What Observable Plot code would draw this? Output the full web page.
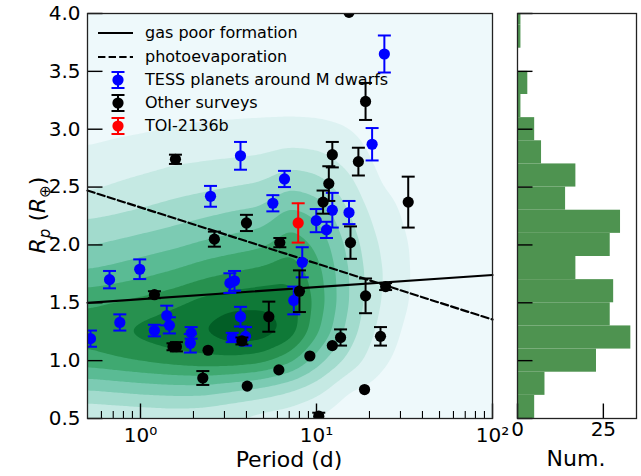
<!DOCTYPE html>
<html>
<head>
<meta charset="utf-8">
<script src="https://cdn.jsdelivr.net/npm/d3@7"></script>
<script src="https://cdn.jsdelivr.net/npm/@observablehq/plot@0.6"></script>
<style>
  html, body { margin: 0; padding: 0; background: #fff; }
  #chart { position: relative; width: 641px; height: 476px; overflow: hidden; font-family: "DejaVu Sans", sans-serif; }
  #chart > svg { position: absolute; top: 0; margin: 0; }
</style>
</head>
<body>
<div id="chart"></div>
<script>
// ---------- data ----------
// TESS planets around M dwarfs
const tessPeriod = [24.3, 20.7, 15.3, 12.3, 11.4, 9.97, 8.3, 7.43, 6.58, 5.65, 3.70, 2.50, 0.99, 0.667, 3.22, 3.42, 0.763, 1.41, 1.46, 1.20, 1.94, 1.92, 3.70, 3.32, 3.95, 0.52];
const tessRadius = [3.65, 2.87, 2.28, 2.30, 2.13, 2.21, 1.85, 1.52, 2.57, 2.36, 2.77, 2.42, 1.79, 1.70, 1.67, 1.69, 1.33, 1.39, 1.305, 1.26, 1.24, 1.15, 1.38, 1.20, 1.21, 1.19];
const tessErr    = [0.16, 0.14, 0.10, 0.15, 0.07, 0.10, 0.13, 0.12, 0.07, 0.07, 0.12, 0.09, 0.085, 0.075, 0.085, 0.085, 0.07, 0.085, 0.07, 0.05, 0.05, 0.08, 0.085, 0.04, 0.08, 0.07];

// Other surveys
const otherPeriod = [15.3, 19.0, 17.3, 12.3, 11.75, 10.9, 33.2, 15.6, 1.58, 4.0, 2.63, 6.19, 1.20, 8.0, 19.0, 24.7, 5.36, 1.53, 1.60, 2.42, 3.77, 2.26, 4.04, 6.11, 9.17, 12.3, 13.7, 23.1, 18.75, 10.3];
const otherRadius = [4.01, 3.24, 2.72, 2.78, 2.53, 2.37, 2.37, 2.02, 2.74, 2.19, 2.05, 2.02, 1.57, 1.60, 1.56, 1.64, 1.38, 1.12, 1.12, 1.09, 1.17, 0.85, 0.78, 0.92, 1.04, 1.13, 1.20, 1.21, 0.75, 0.52];
const otherErr    = [0, 0.16, 0.12, 0.11, 0.15, 0.10, 0.22, 0.14, 0.04, 0.07, 0.065, 0.04, 0.03, 0.18, 0.15, 0.03, 0.13, 0.03, 0.04, 0, 0.03, 0.06, 0, 0, 0, 0, 0.07, 0.08, 0, 0.03];

// TOI-2136b
const toiPeriod = [7.87];
const toiRadius = [2.19];
const toiErr = [0.17];

// model lines
const gasPoorPeriod = [0.5, 100];
const gasPoorRadius = [1.50, 1.74];
const photoPeriod = [0.5, 100];
const photoRadius = [2.47, 1.355];

// histogram of radii (bin lower edges, width 0.2)
const histLower = [0.5, 0.7, 0.9, 1.1, 1.3, 1.5, 1.7, 1.9, 2.1, 2.3, 2.5, 2.7, 2.9, 3.1, 3.3, 3.5, 3.7, 3.9];
const histCount = [5, 8, 23, 33, 27, 28, 17, 27, 30, 14, 17, 7, 5, 1, 3, 0, 1, 1];
const histBinWidth = 0.2;

// density level grid (columns = period nodes, rows = radius nodes)
const densityPeriodNodes = [0.5, 0.73, 1.07, 1.56, 2.28, 3.33, 4.87, 7.1, 10.4, 15.2, 22.2, 32.4, 47.4, 69.2, 101];
const densityRadiusNodes = [4.0, 3.75, 3.5, 3.25, 3.0, 2.75, 2.5, 2.25, 2.0, 1.75, 1.5, 1.25, 1.0, 0.75, 0.5];
const densityLevels = [
  [-1, -0.8, -0.5, -0.2, 0.15, 0.75, 1.33, 2.36, 3.43, 4.67, 6.37, 7.0, 6.1, 3.5, 1.4],
  [-1, -0.8, -0.4, -0.1, 0.3, 0.95, 1.6, 2.55, 3.7, 4.95, 6.6, 7.4, 6.4, 3.7, 1.5],
  [-1, -0.7, -0.3, 0.0, 0.4, 1.1, 1.85, 2.8, 4.0, 5.3, 6.9, 7.9, 6.7, 3.9, 1.6],
  [-1, -0.6, -0.2, 0.1, 0.55, 1.3, 2.1, 3.1, 4.3, 5.7, 7.3, 8.3, 7.0, 4.0, 1.7],
  [-1, -0.6, -0.2, 0.2, 0.6, 1.4, 2.3, 3.4, 4.7, 6.2, 7.9, 8.55, 7.2, 4.0, 1.6],
  [-1, -0.6, -0.2, 0.2, 0.65, 1.5, 2.5, 3.7, 5.0, 6.6, 8.2, 9.3, 7.2, 3.6, 1.3],
  [-1, -0.6, -0.2, 0.2, 0.7, 1.6, 2.7, 3.9, 5.3, 6.9, 8.3, 9.2, 6.9, 3.2, 1.0],
  [-1, -0.5, -0.1, 0.25, 0.7, 2.0, 3.4, 5.0, 6.2, 7.3, 8.1, 8.2, 5.8, 2.6, 0.8],
  [-1, -0.5, -0.1, 0.25, 0.65, 1.8, 3.0, 4.3, 5.2, 5.8, 6.0, 5.5, 3.8, 1.8, 0.3],
  [-1, -0.6, -0.2, 0.2, 0.5, 1.1, 1.9, 2.6, 3.2, 3.5, 3.5, 3.1, 2.2, 0.5, -0.2],
  [-1, -0.7, -0.4, -0.1, 0.1, 0.3, 0.55, 1.1, 1.5, 1.7, 1.6, 1.3, 0.8, 0.2, -0.3],
  [-1, -0.8, -0.6, -0.4, -0.2, 0.0, 0.2, 0.35, 0.55, 0.6, 0.55, 0.3, 0.1, -0.2, -0.5],
  [-1, -1, -0.8, -0.7, -0.6, -0.5, -0.4, -0.3, -0.2, -0.2, -0.2, -0.3, -0.4, -0.6, -0.8],
  [-1, -1, -1, -1, -1, -1, -1, -1, -1, -1, -1, -1, -1, -1, -1],
  [-1, -1, -1, -1, -1, -1, -1, -1, -1, -1, -1, -1, -1, -1, -1]
];
const densityThresholds = [0.5, 1.5, 2.5, 3.5, 4.5, 5.5, 6.5, 7.5, 8.5];

// ticks and labels
const xMajorTicks = [1, 10, 100];
const xMajorLabels = ["10\u2070", "10\u00B9", "10\u00B2"];
const xMinorTicks = [0.6, 0.7, 0.8, 0.9, 2, 3, 4, 5, 6, 7, 8, 9, 20, 30, 40, 50, 60, 70, 80, 90];
const yTicks = [0.5, 1.0, 1.5, 2.0, 2.5, 3.0, 3.5, 4.0];
const histXTicks = [0, 25];
const legendLabels = ["gas poor formation", "photoevaporation", "TESS planets around M dwarfs", "Other surveys", "TOI-2136b"];

// ---------- helpers ----------
const rows = (P, R, E) => P.map((p, i) => ({P: p, R: R[i], e: E ? E[i] : 0}));
const tess = rows(tessPeriod, tessRadius, tessErr);
const other = rows(otherPeriod, otherRadius, otherErr);
const toi = rows(toiPeriod, toiRadius, toiErr);
const gasPoor = rows(gasPoorPeriod, gasPoorRadius);
const photo = rows(photoPeriod, photoRadius);
const hist = histLower.map((lo, i) => ({lo, n: histCount[i]}));

const logNodes = densityPeriodNodes.map(Math.log10);
function densityAt(p, r) {
  const lp = Math.log10(p);
  let i = d3.bisectRight(logNodes, lp) - 1;
  i = Math.max(0, Math.min(logNodes.length - 2, i));
  let fi = (lp - logNodes[i]) / (logNodes[i + 1] - logNodes[i]);
  fi = Math.max(0, Math.min(1, fi));
  const step = densityRadiusNodes[0] - densityRadiusNodes[1];
  let v = (densityRadiusNodes[0] - r) / step;
  v = Math.max(0, Math.min(densityRadiusNodes.length - 1.000001, v));
  const j = Math.floor(v), fj = v - j;
  const a = densityLevels[i][j], b = densityLevels[i + 1][j];
  const c = densityLevels[i][j + 1], d = densityLevels[i + 1][j + 1];
  return a * (1 - fi) * (1 - fj) + b * fi * (1 - fj) + c * (1 - fi) * fj + d * fi * fj;
}

const lineSym = (dx0, dy0, dx1, dy1) => ({draw(ctx) { ctx.moveTo(dx0, dy0); ctx.lineTo(dx1, dy1); }});
const capSym = lineSym(-6.5, 0, 6.5, 0);

function errorMarks(data, color) {
  const withErr = data.filter(d => d.e > 0);
  return [
    Plot.ruleX(withErr, {x: "P", y1: d => d.R - d.e, y2: d => d.R + d.e, stroke: color, strokeWidth: 2, clip: true}),
    Plot.dot(withErr, {x: "P", y: d => d.R - d.e, symbol: capSym, stroke: color, strokeWidth: 2, clip: true}),
    Plot.dot(withErr, {x: "P", y: d => d.R + d.e, symbol: capSym, stroke: color, strokeWidth: 2, clip: true}),
    Plot.dot(data, {x: "P", y: "R", r: 5.6, fill: color, clip: true})
  ];
}

// ---------- main panel ----------
const main = Plot.plot({
  width: 520, height: 476,
  marginLeft: 87, marginRight: 28, marginTop: 13, marginBottom: 58,
  x: {type: "log", domain: [0.5, 100]},
  y: {domain: [0.5, 4.0]},
  color: {type: "linear", domain: [0.5, 8.5], interpolate: t => d3.interpolateBuGn(0.164 + 0.755 * t)},
  style: {fontFamily: "DejaVu Sans", fontSize: "20px", color: "#000", background: "transparent", overflow: "visible"},
  marks: [
    Plot.frame({fill: d3.interpolateBuGn(0.06), stroke: "none"}),
    Plot.contour({value: densityAt, x1: 0.5, x2: 100, y1: 0.5, y2: 4.0, thresholds: densityThresholds, fill: "value", stroke: "none", blur: 3}),
    Plot.line(gasPoor, {x: "P", y: "R", stroke: "#000", strokeWidth: 2.2}),
    Plot.line(photo, {x: "P", y: "R", stroke: "#000", strokeWidth: 2.2, strokeDasharray: "7.4,3.2"}),
    ...errorMarks(tess, "#0000ff"),
    ...errorMarks(other, "#000000"),
    ...errorMarks(toi, "#ff0000"),
    Plot.dot(xMajorTicks, {x: d => d, frameAnchor: "bottom", symbol: lineSym(0, 0, 0, -15), stroke: "#000", strokeWidth: 1.4}),
    Plot.dot(xMinorTicks, {x: d => d, frameAnchor: "bottom", symbol: lineSym(0, 0, 0, -7.5), stroke: "#000", strokeWidth: 1.1}),
    Plot.dot(yTicks, {y: d => d, frameAnchor: "left", symbol: lineSym(0, 0, 15, 0), stroke: "#000", strokeWidth: 1.4}),
    Plot.axisX({ticks: xMajorTicks, tickSize: 0, tickPadding: 9, tickFormat: d => xMajorLabels[xMajorTicks.indexOf(d)], label: null, fontSize: 20}),
    Plot.axisY({ticks: yTicks, tickSize: 0, tickPadding: 7, tickFormat: d3.format(".1f"), label: null, fontSize: 20}),
    Plot.frame({stroke: "#222", strokeWidth: 1.3})
  ]
});
main.style.left = "0px";
document.getElementById("chart").appendChild(main);

// ---------- histogram panel ----------
const side = Plot.plot({
  width: 141, height: 476,
  marginLeft: 17, marginRight: 5, marginTop: 13, marginBottom: 58,
  x: {domain: [0, 34.65]},
  y: {domain: [0.5, 4.0], axis: null},
  style: {fontFamily: "DejaVu Sans", fontSize: "20px", color: "#000", background: "transparent", overflow: "visible"},
  marks: [
    Plot.rectX(hist, {x1: d => 0, x2: "n", y1: "lo", y2: d => d.lo + histBinWidth, fill: "#4e9350", inset: 0, clip: true}),
    Plot.dot(yTicks, {y: d => d, frameAnchor: "left", symbol: lineSym(0, 0, 15, 0), stroke: "#000", strokeWidth: 1.4}),
    Plot.dot(histXTicks, {x: d => d, frameAnchor: "bottom", symbol: lineSym(0, 0, 0, -15), stroke: "#000", strokeWidth: 1.4}),
    Plot.axisX({ticks: histXTicks, tickSize: 0, tickPadding: 3, tickFormat: d => String(d), label: null, fontSize: 20}),
    Plot.frame({stroke: "#222", strokeWidth: 1.3})
  ]
});
side.style.left = "500px";
document.getElementById("chart").appendChild(side);

// ---------- overlay: titles and legend ----------
const ov = d3.select("#chart").append("svg")
  .attr("width", 641).attr("height", 476)
  .style("left", "0px").style("top", "0px").style("position", "absolute")
  .style("font-family", "DejaVu Sans, sans-serif");

ov.append("text").attr("x", 289).attr("y", 467).attr("text-anchor", "middle")
  .style("font-size", "22px").text("Period (d)");
ov.append("text").attr("x", 576).attr("y", 466).attr("text-anchor", "middle")
  .style("font-size", "22px").text("Num.");

const yl = ov.append("text").attr("transform", "translate(45,215) rotate(-90)")
  .attr("text-anchor", "middle").style("font-size", "22px");
yl.append("tspan").style("font-style", "italic").text("R");
yl.append("tspan").style("font-style", "italic").style("font-size", "15px").attr("dy", 5).text("p");
yl.append("tspan").attr("dy", -5).text(" (");
yl.append("tspan").style("font-style", "italic").text("R");
yl.append("tspan").style("font-size", "15px").attr("dy", 5).text("\u2295");
yl.append("tspan").attr("dy", -5).text(")");

const legY = [33, 57, 80, 103, 126];
const lg = ov.append("g");
// line samples
lg.append("line").attr("x1", 98).attr("x2", 133).attr("y1", legY[0]).attr("y2", legY[0])
  .attr("stroke", "#000").attr("stroke-width", 2.2);
lg.append("line").attr("x1", 98).attr("x2", 133).attr("y1", legY[1]).attr("y2", legY[1])
  .attr("stroke", "#000").attr("stroke-width", 2.2).attr("stroke-dasharray", "7.4,3.2");
// marker samples
[["#0000ff", legY[2]], ["#000000", legY[3]], ["#ff0000", legY[4]]].forEach(([c, y]) => {
  lg.append("line").attr("x1", 118).attr("x2", 118).attr("y1", y - 8).attr("y2", y + 8).attr("stroke", c).attr("stroke-width", 2);
  lg.append("line").attr("x1", 111.5).attr("x2", 124.5).attr("y1", y - 8).attr("y2", y - 8).attr("stroke", c).attr("stroke-width", 2);
  lg.append("line").attr("x1", 111.5).attr("x2", 124.5).attr("y1", y + 8).attr("y2", y + 8).attr("stroke", c).attr("stroke-width", 2);
  lg.append("circle").attr("cx", 118).attr("cy", y).attr("r", 5.6).attr("fill", c);
});
legendLabels.forEach((t, i) => {
  lg.append("text").attr("x", 145).attr("y", legY[i]).attr("dy", "0.32em")
    .style("font-size", "16px").text(t);
});
</script>
</body>
</html>
